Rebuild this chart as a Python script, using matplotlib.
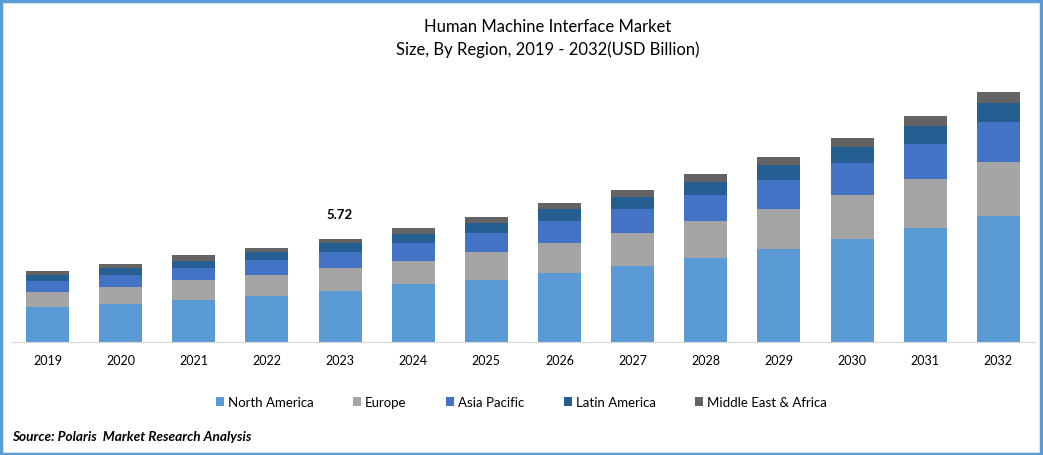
import numpy as np
import matplotlib.pyplot as plt
from matplotlib.patches import Rectangle

years = ['2019', '2020', '2021', '2022', '2023', '2024', '2025', '2026',
         '2027', '2028', '2029', '2030', '2031', '2032']
north_america = [1.94, 2.11, 2.33, 2.55, 2.83, 3.17, 3.44, 3.83, 4.22, 4.66, 5.16, 5.72, 6.33, 7.00]
europe = [0.83, 0.94, 1.06, 1.17, 1.28, 1.33, 1.55, 1.67, 1.83, 2.05, 2.22, 2.44, 2.72, 3.00]
asia_pacific = [0.61, 0.67, 0.72, 0.83, 0.89, 1.00, 1.06, 1.17, 1.33, 1.44, 1.61, 1.78, 1.94, 2.17]
latin_america = [0.33, 0.39, 0.39, 0.44, 0.50, 0.50, 0.56, 0.67, 0.67, 0.72, 0.83, 0.89, 1.00, 1.06]
mea = [0.22, 0.22, 0.28, 0.22, 0.22, 0.33, 0.33, 0.33, 0.39, 0.44, 0.44, 0.50, 0.56, 0.61]

series = [('North America', north_america, '#5B9BD5'),
          ('Europe', europe, '#A5A5A5'),
          ('Asia Pacific', asia_pacific, '#4472C4'),
          ('Latin America', latin_america, '#255E91'),
          ('Middle East & Africa', mea, '#636363')]

plt.rcParams['font.family'] = ['Lato', 'DejaVu Sans']

fig = plt.figure(figsize=(10.43, 4.56), dpi=100)
ax = fig.add_axes([10.9 / 1043, 113.5 / 456, 1024 / 1043, 257 / 456])

x = np.arange(len(years))
bottom = np.zeros(len(years))
for name, vals, col in series:
    ax.bar(x, vals, width=0.588, bottom=bottom, color=col, label=name)
    bottom += np.array(vals)

# value label on 2023
i23 = years.index('2023')
ax.annotate(f'{bottom[i23]:.2f}', (x[i23], bottom[i23]), xytext=(0, 18),
            textcoords='offset points', ha='center', va='center',
            fontsize=9.5, fontweight='bold')

ax.set_xlim(-0.5, len(years) - 0.5)
ax.set_ylim(0, 257 / 18.0)
ax.set_xticks(x)
ax.set_xticklabels(years, fontsize=9)
ax.tick_params(axis='x', length=0, pad=9)
ax.set_yticks([])
for s in ['top', 'right', 'left']:
    ax.spines[s].set_visible(False)
ax.spines['bottom'].set_color('#D9D9D9')

fig.text(0.525, 1 - 27 / 456, 'Human Machine Interface Market', ha='center', va='center', fontsize=12)
fig.text(0.525, 1 - 50 / 456, 'Size, By Region, 2019 - 2032(USD Billion)', ha='center', va='center', fontsize=12)

leg = fig.legend(loc='center', bbox_to_anchor=(0.5, 1 - 403 / 456), ncol=5, frameon=False,
                 fontsize=9.5, handlelength=0.6, handleheight=0.6, handletextpad=0.3,
                 columnspacing=3.0)

fig.text(12 / 1043, 1 - 437 / 456, 'Source: Polaris  Market Research Analysis', ha='left', va='center',
         fontsize=9.8, fontweight='bold', fontstyle='italic')

fig.patches.append(Rectangle((0.001, 0.002), 0.997, 0.994, transform=fig.transFigure, fill=False,
                             edgecolor='#5B9BD5', lw=2.5))

fig.savefig('out.png', dpi=100)
